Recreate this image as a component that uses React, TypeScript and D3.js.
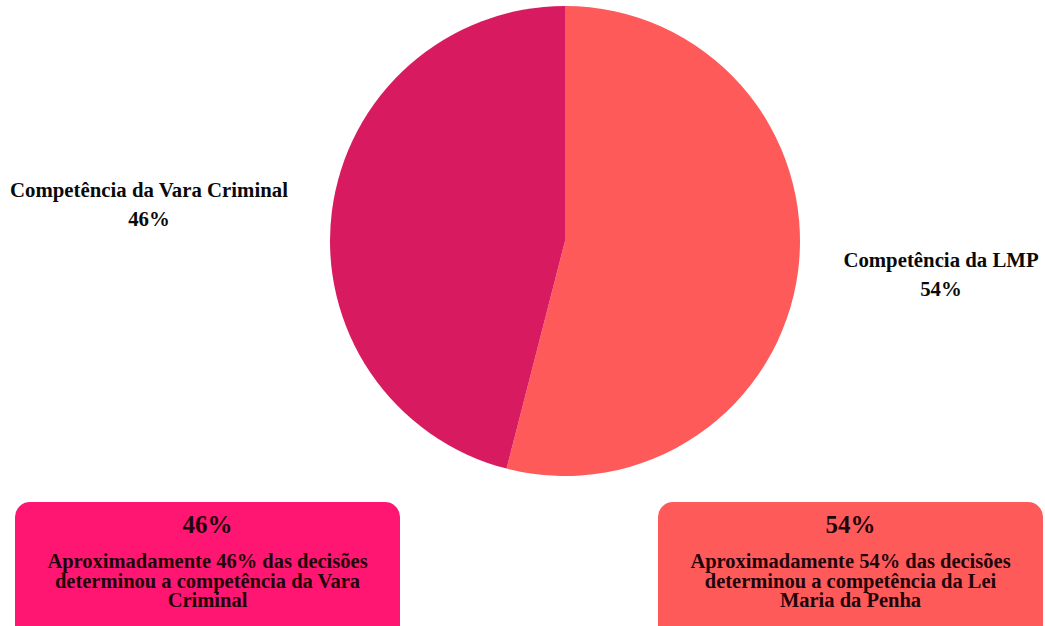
import React from "react";
import * as d3 from "d3";

const categories = ["Competência da LMP", "Competência da Vara Criminal"];
const values = [54, 46];
const sliceColors = ["#FF5A5A", "#D81B60"];
const boxTitles = ["46%", "54%"];
const boxTexts = [
  ["Aproximadamente 46% das decisões", "determinou a competência da Vara", "Criminal"],
  ["Aproximadamente 54% das decisões", "determinou a competência da Lei", "Maria da Penha"],
];
const boxColors = ["#FF1673", "#FF5A5A"];

const W = 1045;
const H = 626;
const font = "'Liberation Serif', 'Times New Roman', serif";

export default function App() {
  const cx = 565;
  const cy = 241;
  const r = 235;
  const pie = d3.pie<number>().sort(null).value((d) => d);
  const arcs = pie(values);
  const arc = d3.arc<d3.PieArcDatum<number>>().innerRadius(0).outerRadius(r);

  const labelPos = [
    { x: 941, y: 267 },
    { x: 149, y: 197 },
  ];

  const boxes = [
    { x: 15, y: 502, w: 385, h: 124 },
    { x: 658, y: 502, w: 385, h: 124 },
  ];

  return (
    <svg
      width={W}
      height={H}
      style={{ position: "fixed", left: 0, top: 0, background: "#fff" }}
    >
      <g transform={`translate(${cx},${cy})`}>
        {arcs.map((a, i) => (
          <path key={i} d={arc(a) || ""} fill={sliceColors[i]} />
        ))}
      </g>
      {categories.map((c, i) => (
        <text
          key={c}
          x={labelPos[i].x}
          y={labelPos[i].y}
          textAnchor="middle"
          fontFamily={font}
          fontWeight="bold"
          fontSize={20.8}
          fill="#0a0a0a"
        >
          <tspan x={labelPos[i].x} dy={0}>{c}</tspan>
          <tspan x={labelPos[i].x} dy={29}>{values[i]}%</tspan>
        </text>
      ))}
      {boxes.map((b, i) => (
        <g key={i}>
          <rect x={b.x} y={b.y} width={b.w} height={b.h + 15} rx={15} ry={15} fill={boxColors[i]} />
          <text
            x={b.x + b.w / 2}
            y={b.y + 31}
            textAnchor="middle"
            fontFamily={font}
            fontWeight="bold"
            fontSize={25}
            fill="#1f0409"
          >
            {boxTitles[i]}
          </text>
          <text
            x={b.x + b.w / 2}
            y={b.y + 66}
            textAnchor="middle"
            fontFamily={font}
            fontWeight="bold"
            fontSize={20.5}
            fill="#1f0409"
          >
            {boxTexts[i].map((t, j) => (
              <tspan key={j} x={b.x + b.w / 2} dy={j === 0 ? 0 : 19.5}>
                {t}
              </tspan>
            ))}
          </text>
        </g>
      ))}
    </svg>
  );
}
